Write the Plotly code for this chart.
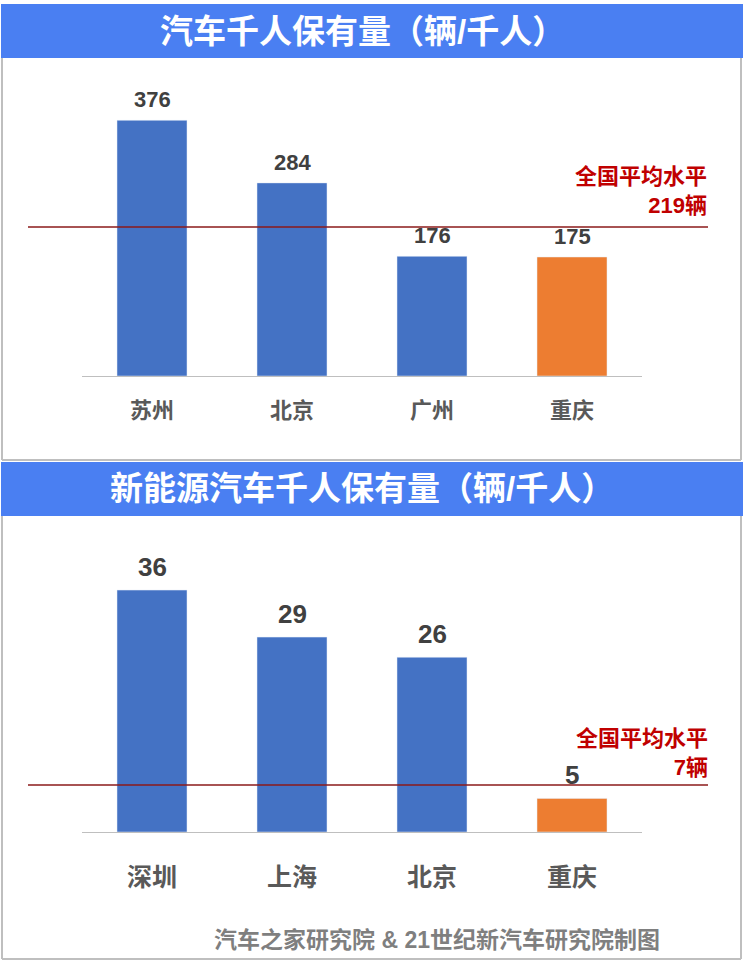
import plotly.graph_objects as go

W, H = 744, 968

# ---- data ----
title1 = "汽车千人保有量（辆/千人）"
cities1 = ["苏州", "北京", "广州", "重庆"]
values1 = [376, 284, 176, 175]
avg1 = 219
avg_label1 = "全国平均水平<br>219辆"

title2 = "新能源汽车千人保有量（辆/千人）"
cities2 = ["深圳", "上海", "北京", "重庆"]
values2 = [36, 29, 26, 5]
avg2 = 7
avg_label2 = "全国平均水平<br>7辆"

footer = "汽车之家研究院 & 21世纪新汽车研究院制图"

BLUE = "#4472C4"
ORANGE = "#ED7D31"
HEAD = "#4A7FF2"
RED = "#C00000"
LINE = "#8B1A1A"
FONT = "Liberation Sans, Arial, 'Noto Sans CJK SC', sans-serif"


def px(x):
    return x / W


def py(y):
    return 1 - y / H


colors1 = [BLUE, BLUE, BLUE, ORANGE]
colors2 = [BLUE, BLUE, BLUE, ORANGE]

fig = go.Figure()
fig.add_trace(go.Bar(x=cities1, y=values1, marker_color=colors1, xaxis="x", yaxis="y",
                     hoverinfo="skip"))
fig.add_trace(go.Bar(x=cities2, y=values2, marker_color=colors2, xaxis="x2", yaxis="y2",
                     hoverinfo="skip"))

x_dom = [px(82), px(642)]
ymax1 = 420
ymax2 = 42
fig.update_layout(
    width=W, height=H,
    margin=dict(l=0, r=0, t=0, b=0),
    paper_bgcolor="white", plot_bgcolor="white",
    showlegend=False, bargap=0.5,
    font=dict(family=FONT),
    xaxis=dict(domain=x_dom, anchor="y", showgrid=False, zeroline=False,
               showline=True, linecolor="#BFBFBF", linewidth=1,
               ticks="outside", ticklen=15, tickcolor="rgba(0,0,0,0)",
               tickfont=dict(size=22, color="#595959", family=FONT, weight="bold")),
    yaxis=dict(domain=[py(376), py(376 - ymax1 * 0.68)], range=[0, ymax1],
               visible=False, fixedrange=True),
    xaxis2=dict(domain=x_dom, anchor="y2", showgrid=False, zeroline=False,
                showline=True, linecolor="#BFBFBF", linewidth=1,
                ticks="outside", ticklen=23, tickcolor="rgba(0,0,0,0)",
                tickfont=dict(size=25, color="#595959", family=FONT, weight="bold")),
    yaxis2=dict(domain=[py(832), py(832 - ymax2 * 6.72)], range=[0, ymax2],
                visible=False, fixedrange=True),
)

shapes = []
# header bands
for (y0, y1) in [(4, 58), (462, 516)]:
    shapes.append(dict(type="rect", xref="paper", yref="paper",
                       x0=px(1), x1=px(743), y0=py(y1), y1=py(y0),
                       fillcolor=HEAD, line=dict(width=0), layer="below"))
# panel borders
border = dict(color="#BFBFBF", width=2)
for (y0, y1) in [(58, 460), (516, 959)]:
    shapes.append(dict(type="line", xref="paper", yref="paper",
                       x0=px(2), x1=px(2), y0=py(y0), y1=py(y1), line=border))
    shapes.append(dict(type="line", xref="paper", yref="paper",
                       x0=px(741), x1=px(741), y0=py(y0), y1=py(y1), line=border))
    shapes.append(dict(type="line", xref="paper", yref="paper",
                       x0=px(2), x1=px(741), y0=py(y1), y1=py(y1), line=border))
# average lines
shapes.append(dict(type="line", xref="paper", yref="y", x0=px(28), x1=px(708),
                   y0=avg1, y1=avg1, line=dict(color=LINE, width=1.5)))
shapes.append(dict(type="line", xref="paper", yref="y2", x0=px(28), x1=px(708),
                   y0=avg2, y1=avg2, line=dict(color=LINE, width=1.5)))
fig.update_layout(shapes=shapes)

ann = []
# header titles
ann.append(dict(text=f"<b>{title1}</b>", xref="paper", yref="paper", x=px(362), y=py(31),
                xanchor="center", yanchor="middle", showarrow=False,
                font=dict(size=33, color="white", family=FONT)))
ann.append(dict(text=f"<b>{title2}</b>", xref="paper", yref="paper", x=px(362), y=py(489),
                xanchor="center", yanchor="middle", showarrow=False,
                font=dict(size=33, color="white", family=FONT)))
# value labels
for c, v in zip(cities1, values1):
    ann.append(dict(text=f"<b>{v}</b>", x=c, y=v, xref="x", yref="y", yanchor="bottom",
                    yshift=6, showarrow=False, font=dict(size=22, color="#404040", family=FONT)))
for c, v in zip(cities2, values2):
    ann.append(dict(text=f"<b>{v}</b>", x=c, y=v, xref="x2", yref="y2", yanchor="bottom",
                    yshift=6, showarrow=False, font=dict(size=26, color="#404040", family=FONT)))
# average labels
ann.append(dict(text=f"<b>{avg_label1}</b>", xref="paper", yref="y", x=px(709), y=avg1,
                xanchor="right", yanchor="bottom", align="right", yshift=7, showarrow=False,
                font=dict(size=22, color=RED, family=FONT)))
ann.append(dict(text=f"<b>{avg_label2}</b>", xref="paper", yref="y2", x=px(710), y=avg2,
                xanchor="right", yanchor="bottom", align="right", yshift=3, showarrow=False,
                font=dict(size=22, color=RED, family=FONT)))
# footer
ann.append(dict(text=f"<b>{footer}</b>", xref="paper", yref="paper", x=px(437), y=py(940),
                xanchor="center", yanchor="middle", showarrow=False,
                font=dict(size=23, color="#7F7F7F", family=FONT)))
fig.update_layout(annotations=ann)

fig.write_html("out.html", config={"displayModeBar": False},
               post_script="document.body.style.margin='0';document.body.style.overflow='hidden';")
